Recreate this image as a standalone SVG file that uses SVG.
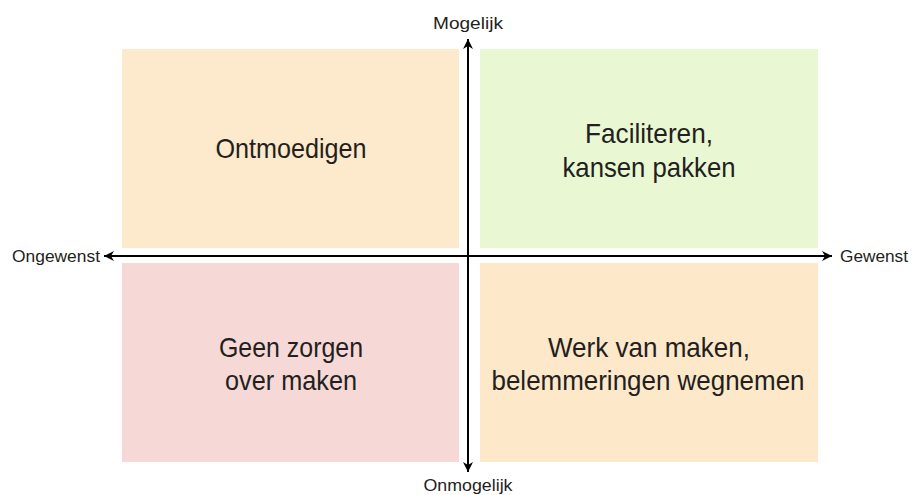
<svg xmlns="http://www.w3.org/2000/svg" width="912" height="495" viewBox="0 0 912 495">
<defs>
<marker id="ah" viewBox="0 0 10 10" refX="10" refY="5" markerWidth="10" markerHeight="10" markerUnits="userSpaceOnUse" orient="auto-start-reverse">
<path d="M0,0 L10,5 L0,10 L3,5 Z" fill="#000"/>
</marker>
<style>
.q{font-family:"Liberation Sans",Arial,sans-serif;font-size:28px;fill:#231f20;text-anchor:middle}
.ax{font-family:"Liberation Sans",Arial,sans-serif;font-size:17px;fill:#231f20}
.ln{stroke:#000;stroke-width:2;fill:none}
</style>
</defs>
<rect width="912" height="495" fill="#fff"/>
<g id="q-ontmoedigen">
<rect x="122" y="49" width="337" height="199" fill="#fde9cb"/>
<text class="q" x="291" y="158" textLength="151" lengthAdjust="spacingAndGlyphs">Ontmoedigen</text>
</g>
<g id="q-faciliteren">
<rect x="480" y="49" width="338" height="199" fill="#e9f8d3"/>
<text class="q" x="649" y="143" textLength="128" lengthAdjust="spacingAndGlyphs">Faciliteren,</text>
<text class="q" x="649" y="177" textLength="173" lengthAdjust="spacingAndGlyphs">kansen pakken</text>
</g>
<g id="q-geen-zorgen">
<rect x="122" y="263" width="337" height="199" fill="#f6d9d6"/>
<text class="q" x="291" y="357" textLength="144" lengthAdjust="spacingAndGlyphs">Geen zorgen</text>
<text class="q" x="291" y="390" textLength="132" lengthAdjust="spacingAndGlyphs">over maken</text>
</g>
<g id="q-werk">
<rect x="480" y="263" width="338" height="199" fill="#fde8ca"/>
<text class="q" x="649" y="357" textLength="202" lengthAdjust="spacingAndGlyphs">Werk van maken,</text>
<text class="q" x="648" y="390" textLength="313" lengthAdjust="spacingAndGlyphs">belemmeringen wegnemen</text>
</g>
<g id="connectors">
<line class="ln" x1="468" y1="472" x2="468" y2="39" marker-end="url(#ah)" marker-start="url(#ah)"/>
<line class="ln" x1="104" y1="256" x2="832" y2="256" marker-end="url(#ah)" marker-start="url(#ah)"/>
</g>
<g id="labels">
<text class="ax" x="468" y="29" text-anchor="middle" textLength="70" lengthAdjust="spacingAndGlyphs">Mogelijk</text>
<text class="ax" x="468" y="491" text-anchor="middle" textLength="89" lengthAdjust="spacingAndGlyphs">Onmogelijk</text>
<text class="ax" x="12" y="262" textLength="88" lengthAdjust="spacingAndGlyphs">Ongewenst</text>
<text class="ax" x="840" y="262" textLength="68" lengthAdjust="spacingAndGlyphs">Gewenst</text>
</g>
</svg>
